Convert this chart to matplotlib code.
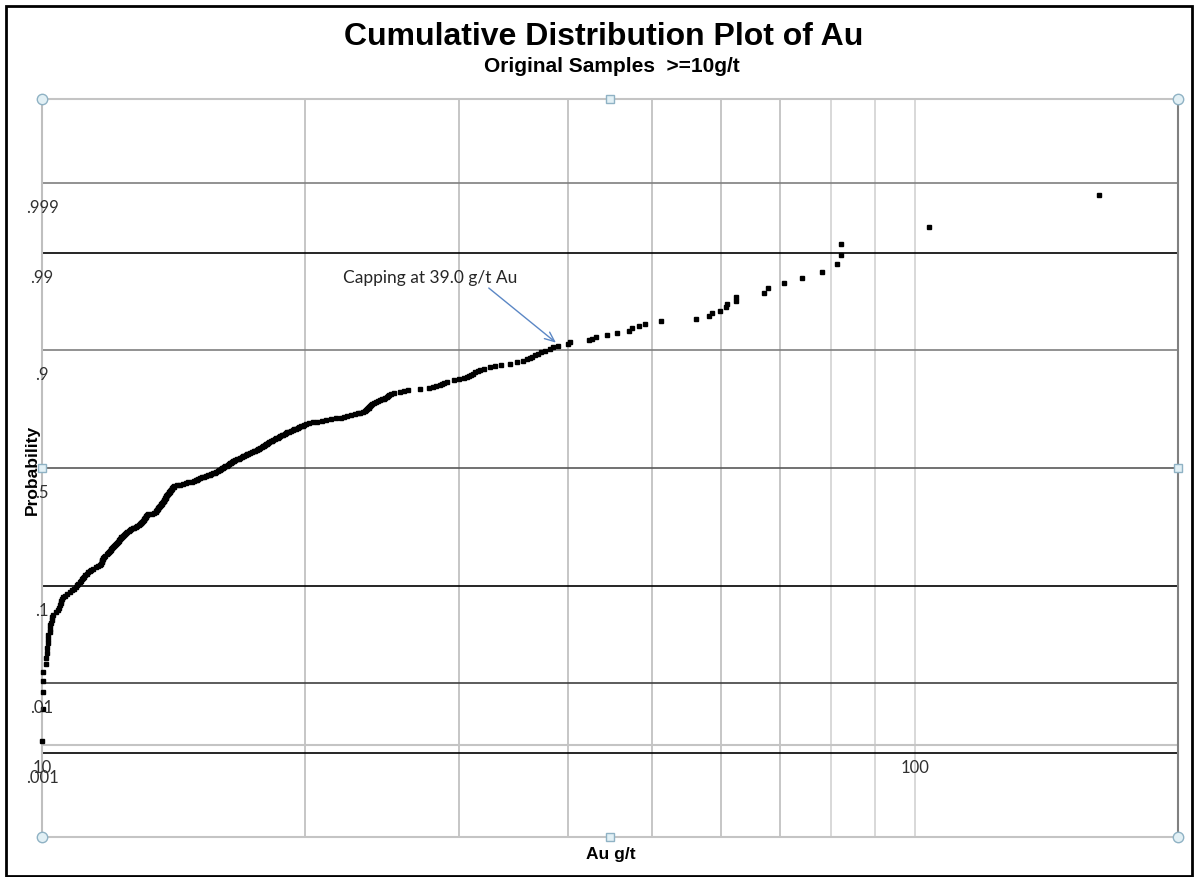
import numpy as np
import matplotlib.pyplot as plt
from matplotlib.patches import Rectangle
from statistics import NormalDist

# sorted Au assays (g/t), samples >= 10 g/t
au_values = [
    10.01, 10.02, 10.02, 10.03, 10.03, 10.10, 10.11, 10.13, 10.13, 10.16,
    10.16, 10.17, 10.20, 10.20, 10.21, 10.23, 10.27, 10.28, 10.29, 10.37,
    10.43, 10.46, 10.48, 10.50, 10.52, 10.54, 10.57, 10.62, 10.68, 10.77,
    10.82, 10.88, 10.94, 10.97, 11.01, 11.04, 11.07, 11.10, 11.14, 11.17,
    11.21, 11.25, 11.29, 11.34, 11.38, 11.45, 11.53, 11.60, 11.65, 11.68,
    11.70, 11.71, 11.72, 11.74, 11.75, 11.78, 11.82, 11.86, 11.90, 11.93,
    11.96, 11.98, 12.01, 12.03, 12.06, 12.09, 12.12, 12.15, 12.19, 12.22,
    12.24, 12.26, 12.28, 12.30, 12.32, 12.35, 12.38, 12.41, 12.44, 12.48,
    12.52, 12.57, 12.62, 12.66, 12.71, 12.76, 12.81, 12.86, 12.91, 12.95,
    12.98, 13.00, 13.03, 13.05, 13.07, 13.09, 13.11, 13.12, 13.14, 13.15,
    13.19, 13.24, 13.36, 13.45, 13.49, 13.51, 13.53, 13.55, 13.57, 13.58,
    13.61, 13.63, 13.66, 13.68, 13.70, 13.72, 13.74, 13.76, 13.78, 13.79,
    13.81, 13.82, 13.83, 13.85, 13.86, 13.88, 13.90, 13.92, 13.95, 13.97,
    13.99, 14.01, 14.03, 14.04, 14.06, 14.08, 14.10, 14.12, 14.15, 14.17,
    14.27, 14.38, 14.49, 14.61, 14.71, 14.84, 14.92, 15.00, 15.04, 15.08,
    15.16, 15.24, 15.32, 15.41, 15.49, 15.57, 15.61, 15.69, 15.77, 15.83,
    15.90, 15.94, 15.98, 16.03, 16.07, 16.11, 16.15, 16.22, 16.28, 16.33,
    16.37, 16.41, 16.46, 16.50, 16.54, 16.59, 16.63, 16.72, 16.79, 16.85,
    16.94, 16.99, 17.05, 17.12, 17.17, 17.21, 17.30, 17.39, 17.49, 17.55,
    17.62, 17.69, 17.74, 17.79, 17.86, 17.91, 17.95, 18.00, 18.05, 18.10,
    18.14, 18.21, 18.29, 18.34, 18.41, 18.48, 18.55, 18.63, 18.68, 18.75,
    18.83, 18.90, 18.98, 19.05, 19.10, 19.18, 19.28, 19.36, 19.43, 19.54,
    19.64, 19.72, 19.80, 19.88, 19.96, 20.06, 20.22, 20.44, 20.66, 20.93,
    21.16, 21.44, 21.72, 21.98, 22.18, 22.36, 22.60, 22.85, 23.03, 23.16,
    23.29, 23.42, 23.49, 23.55, 23.60, 23.66, 23.70, 23.76, 23.82, 23.89,
    23.98, 24.10, 24.23, 24.36, 24.49, 24.62, 24.72, 24.82, 24.88, 24.98,
    25.09, 25.29, 25.69, 25.96, 26.24, 27.07, 27.72, 28.01, 28.24, 28.54,
    28.69, 28.85, 29.10, 29.65, 30.00, 30.40, 30.64, 30.80, 30.97, 31.13,
    31.30, 31.55, 31.72, 32.07, 32.59, 33.03, 33.57, 34.40, 34.96, 35.53,
    35.92, 36.21, 36.40, 36.70, 36.95, 37.31, 37.72, 38.13, 38.50, 39.00,
    40.00, 40.20, 42.30, 42.60, 43.10, 44.40, 45.50, 47.00, 47.40, 48.30,
    49.10, 51.10, 56.10, 58.10, 58.50, 59.70, 60.80, 60.90, 62.30, 62.40,
    67.20, 67.90, 70.80, 74.20, 78.20, 81.30, 82.20, 82.30, 103.70, 162.30,
]

prob_levels = [0.001, 0.01, 0.1, 0.5, 0.9, 0.99, 0.999]
prob_labels = ['.001', '.01', '.1', '.5', '.9', '.99', '.999']
level_colors = ['black', '#404040', 'black', '#595959', '#7f7f7f', 'black', '#7f7f7f']
grid_grades = [20, 30, 40, 50, 60, 70, 80, 90, 100]
grade_labels = [10, 100]
cap_grade = 39.0

nd = NormalDist()
au = np.sort(np.array(au_values))
n = len(au)
plot_pos = (np.arange(1, n + 1) - 0.5) / n          # Hazen plotting position
z = np.array([nd.inv_cdf(p) for p in plot_pos])

W, H = 1196, 878
fig = plt.figure(figsize=(W / 100, H / 100), dpi=100)
ax = fig.add_axes([42 / W, 1 - 838 / H, (1178 - 42) / W, (838 - 100) / H])
ax.set_xscale('log')
ax.set_xlim(10, 200)
ax.set_ylim(-4, 4)
ax.set_xticks([])
ax.set_xticks([], minor=True)
ax.set_yticks([])

for spine, c in zip(['left', 'top', 'bottom', 'right'],
                    ['#bfbfbf', '#c4c4c4', '#c4c4c4', '#808080']):
    ax.spines[spine].set_color(c)
    ax.spines[spine].set_linewidth(1.5)

# vertical grid on the log grade axis
for g in grid_grades:
    c = '#c2c2c2' if g < 80 else '#d6d6d6'
    ax.axvline(g, color=c, lw=1.3, zorder=1)

# probability lines on the normal-quantile axis
for p, c in zip(prob_levels, level_colors):
    ax.axhline(nd.inv_cdf(p), color=c, lw=1.2, zorder=1)
ax.axhline(-3, color='#c4c4c4', lw=1.5, zorder=1)

ax.plot(au, z, 's', ms=3.2, color='black', mec='black', clip_on=False, zorder=3)

lab_font = dict(family='Lato', fontsize=12, color='#303030')
for p, lab in zip(prob_levels, prob_labels):
    ax.annotate(lab, xy=(10, nd.inv_cdf(p)), xytext=(0, -24), textcoords='offset pixels',
                ha='center', va='center', annotation_clip=False, **lab_font)
for g in grade_labels:
    ax.annotate(str(g), xy=(g, -3), xytext=(0, -22), textcoords='offset pixels',
                ha='center', va='center', annotation_clip=False, **lab_font)

# capping annotation
ax.text(27.8, 2.07, 'Capping at 39.0 g/t Au', ha='center', va='center',
        family='Lato', fontsize=12.5, color='#262626')
ax.annotate('', xy=(cap_grade, 1.34), xytext=(32.3, 1.97),
            arrowprops=dict(arrowstyle='->,head_length=0.7,head_width=0.3',
                            color='#5b87c5', lw=1))

# selection handles around the plot area
hx = [0, 1, 0, 1]
hy = [0, 0, 1, 1]
ax.plot(hx, hy, 'o', ms=7.5, mfc='#e2f0f5', mec='#8fb2c4', mew=1,
        transform=ax.transAxes, clip_on=False, zorder=5)
ax.plot([0.5, 0.5, 0, 1], [0, 1, 0.5, 0.5], 's', ms=5.5, mfc='#e2f0f5', mec='#8fb2c4',
        mew=1, transform=ax.transAxes, clip_on=False, zorder=5)

fig.text(603.5 / W, 1 - 37 / H, 'Cumulative Distribution Plot of Au', ha='center', va='center',
         family='Liberation Sans', fontsize=23, weight='bold')
fig.text(611.5 / W, 1 - 66 / H, 'Original Samples  >=10g/t', ha='center', va='center',
         family='Liberation Sans', fontsize=15, weight='bold')
fig.text(32 / W, 1 - 470 / H, 'Probability', rotation=90, ha='center', va='center',
         family='Liberation Sans', fontsize=12.5, weight='bold')
fig.text(611 / W, 1 - 855 / H, 'Au g/t', ha='center', va='center',
         family='Liberation Sans', fontsize=12.5, weight='bold')

fig.patches.append(Rectangle((6 / W, 1 - 877 / H), (1192 - 6) / W, (877 - 7) / H,
                             transform=fig.transFigure, fill=False, ec='black', lw=2))

fig.savefig('out.png', dpi=100)
